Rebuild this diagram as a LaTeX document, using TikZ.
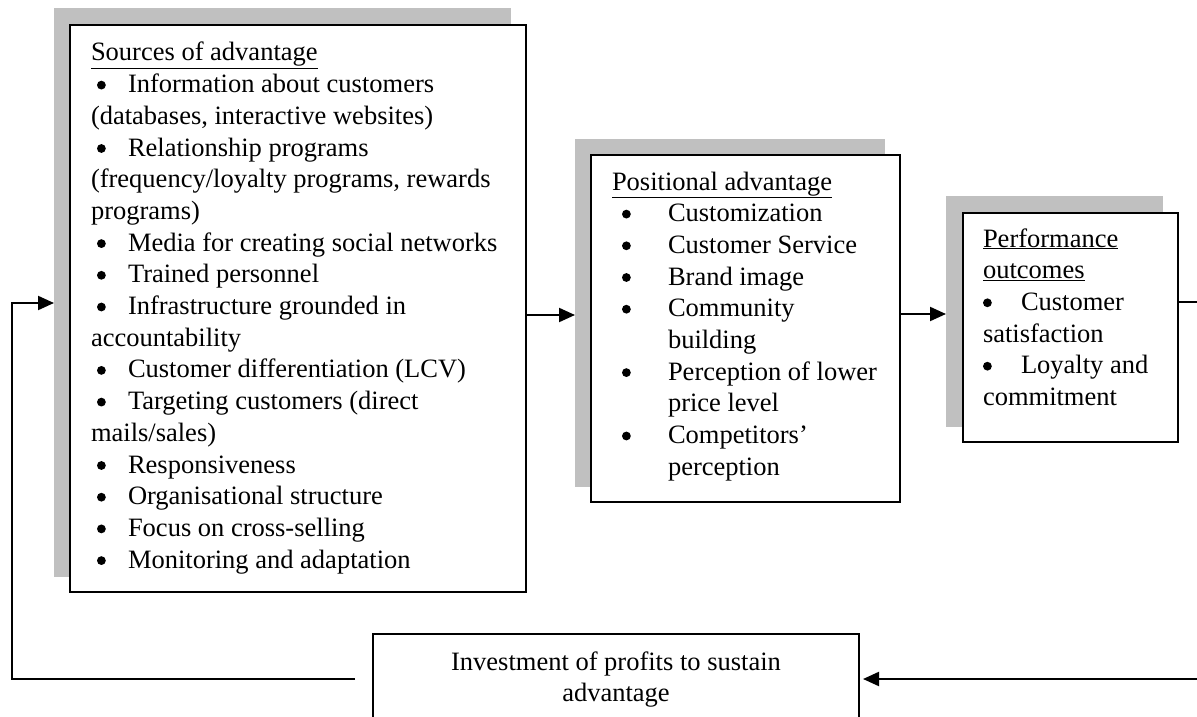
\documentclass[tikz,border=0pt]{standalone}
\usepackage{fontspec}
\setmainfont{Liberation Serif}
\usetikzlibrary{arrows.meta}
\newcommand\dotb{\tikz[x=1pt,y=1pt,baseline=0pt]\fill[black] (4.4,7.6) circle (4.4);}
\newcommand\bulA[1]{\makebox[37pt][l]{\hspace{6pt}\dotb}#1}
\newcommand\bulB[1]{\makebox[56pt][l]{\hspace{10pt}\dotb}#1}
\newcommand\contB[1]{\hspace*{56pt}#1}
\newcommand\bulC[1]{\makebox[38pt][l]{\dotb}#1}
\newcommand\ul[1]{\underline{#1}}
\begin{document}
\begin{tikzpicture}[x=1pt,y=-1pt,
  shadowbox/.style={fill=shadowgray,draw=none,inner sep=0pt,outer sep=0pt,anchor=north west},
  mainbox/.style={fill=white,draw=black,line width=2pt,inner sep=0pt,outer sep=0pt,anchor=north west},
  txt/.style={inner sep=0pt,outer sep=0pt,font=\fontsize{26.5}{31.7}\selectfont},
  arr/.style={line width=2.1pt,-{Triangle[length=16pt,width=14pt]}},
  ln/.style={line width=2.1pt}]
\definecolor{shadowgray}{RGB}{192,192,192}
\useasboundingbox (0,0) rectangle (1197,717);
\clip (0,0) rectangle (1197,717);
% shadows
\node[shadowbox,minimum width=457pt,minimum height=569pt] (s1) at (54,8) {};
\node[shadowbox,minimum width=310pt,minimum height=348pt] (s2) at (575,139) {};
\node[shadowbox,minimum width=217pt,minimum height=231pt] (s3) at (946,196) {};
% boxes
\node[mainbox,minimum width=456pt,minimum height=567pt] (b1) at (70,25) {};
\node[mainbox,minimum width=309pt,minimum height=347pt] (b2) at (591,155) {};
\node[mainbox,minimum width=215pt,minimum height=229pt] (b3) at (963,213) {};
\node[mainbox,minimum width=486pt,minimum height=110pt] (b4) at (373,634) {};
% texts
\node[txt,anchor=base west] (t1) at (91,61) {\begin{tabular}[t]{@{}l@{}}
\ul{Sources of advantage}\\
\bulA{Information about customers}\\
(databases, interactive websites)\\
\bulA{Relationship programs}\\
(frequency/loyalty programs, rewards\\
programs)\\
\bulA{Media for creating social networks}\\
\bulA{Trained personnel}\\
\bulA{Infrastructure grounded in}\\
accountability\\
\bulA{Customer differentiation (LCV)}\\
\bulA{Targeting customers (direct}\\
mails/sales)\\
\bulA{Responsiveness}\\
\bulA{Organisational structure}\\
\bulA{Focus on cross-selling}\\
\bulA{Monitoring and adaptation}
\end{tabular}};
\node[txt,anchor=base west] (t2) at (612,190) {\begin{tabular}[t]{@{}l@{}}
\ul{Positional advantage}\\
\bulB{Customization}\\
\bulB{Customer Service}\\
\bulB{Brand image}\\
\bulB{Community}\\
\contB{building}\\
\bulB{Perception of lower}\\
\contB{price level}\\
\bulB{Competitors’}\\
\contB{perception}
\end{tabular}};
\node[txt,anchor=base west] (t3) at (983,247) {\begin{tabular}[t]{@{}l@{}}
\ul{Performance}\\
\ul{outcomes}\\
\bulC{Customer}\\
satisfaction\\
\bulC{Loyalty and}\\
commitment
\end{tabular}};
\node[txt,anchor=base] (t4) at (616,670) {\begin{tabular}[t]{@{}c@{}}
Investment of profits to sustain\\
advantage
\end{tabular}};
% connectors
\coordinate (L1) at (12,679);
\coordinate (L2) at (355,679);
\coordinate (R1) at (1205,302);
\coordinate (R2) at (1205,679);
\draw[arr] (b1.east |- 0,315) -- (s2.west |- 0,315);
\draw[arr] (b2.east |- 0,314) -- (s3.west |- 0,314);
\draw[arr] (L2) -- (L1) -- (L1 |- 0,303) -- (s1.west |- 0,303);
\draw[arr,shorten >=4pt] (b3.east |- R1) -- (R1) -- (R2) -- (b4.east |- R2);
\end{tikzpicture}
\end{document}
